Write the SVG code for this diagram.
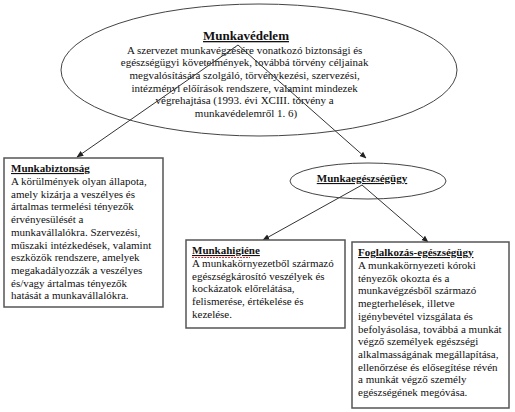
<svg xmlns="http://www.w3.org/2000/svg" width="515" height="412" viewBox="0 0 515 412">
<defs>
<marker id="arr" viewBox="0 0 10 10" refX="9" refY="5" markerWidth="7" markerHeight="7" orient="auto" markerUnits="userSpaceOnUse">
<path d="M0,1 L10,5 L0,9 z" fill="#222"/>
</marker>
<style>
text{font-family:"Liberation Serif","Times New Roman",serif;fill:#111;font-size:11px}
.t{font-weight:bold;text-decoration:underline}
.el{fill:#fff;stroke:#444;stroke-width:1}
.bx{fill:#fff;stroke:#555;stroke-width:1.5}
.ln{stroke:#333;stroke-width:1;fill:none;marker-end:url(#arr)}
</style>
</defs>
<rect width="515" height="412" fill="#fff"/>
<g id="munkavedelem">
<ellipse class="el" cx="259" cy="70" rx="198" ry="66"/>
<text x="246" y="40" text-anchor="middle" class="t" style="font-size:13px">Munkavédelem</text>
<text text-anchor="middle">
<tspan x="246" y="53.5">A szervezet munkavégzésére vonatkozó biztonsági és</tspan>
<tspan x="246" y="66.2">egészségügyi követelmények, továbbá törvény céljainak</tspan>
<tspan x="246" y="78.9">megvalósítására szolgáló, törvénykezési, szervezési,</tspan>
<tspan x="246" y="91.6">intézményi előírások rendszere, valamint mindezek</tspan>
<tspan x="246" y="104.3">végrehajtása (1993. évi XCIII. törvény a</tspan>
<tspan x="246" y="117">munkavédelemről 1. 6)</tspan>
</text>
</g>
<g id="munkaegeszsegugy">
<ellipse class="el" cx="368" cy="181" rx="78" ry="18"/>
<text x="362" y="182" text-anchor="middle" class="t">Munkaegészségügy</text>
</g>
<g id="connectors">
<line class="ln" x1="238" y1="45" x2="77" y2="157"/>
<line class="ln" x1="238" y1="45" x2="366" y2="158"/>
<line class="ln" x1="362" y1="185" x2="263" y2="240"/>
<line class="ln" x1="362" y1="185" x2="428" y2="242"/>
</g>
<g id="munkabiztonsag">
<rect class="bx" x="4" y="158" width="159" height="149"/>
<text x="11" y="172" class="t">Munkabiztonság</text>
<text>
<tspan x="11" y="185">A körülmények olyan állapota,</tspan>
<tspan x="11" y="197.7">amely kizárja a veszélyes és</tspan>
<tspan x="11" y="210.4">ártalmas termelési tényezők</tspan>
<tspan x="11" y="223.1">érvényesülését a</tspan>
<tspan x="11" y="235.8">munkavállalókra. Szervezési,</tspan>
<tspan x="11" y="248.5">műszaki intézkedések, valamint</tspan>
<tspan x="11" y="261.2">eszközök rendszere, amelyek</tspan>
<tspan x="11" y="273.9">megakadályozzák a veszélyes</tspan>
<tspan x="11" y="286.6">és/vagy ártalmas tényezők</tspan>
<tspan x="11" y="299.3">hatását a munkavállalókra.</tspan>
</text>
</g>
<g id="munkahigiene">
<rect class="bx" x="186" y="240" width="159" height="88"/>
<text x="192" y="254" class="t">Munkahigiéne</text>
<line x1="192" y1="257.5" x2="250" y2="257.5" stroke="#d33" stroke-width="1" stroke-dasharray="2,1"/>
<text>
<tspan x="192" y="267">A munkakörnyezetből származó</tspan>
<tspan x="192" y="279.7">egészségkárosító veszélyek és</tspan>
<tspan x="192" y="292.4">kockázatok előrelátása,</tspan>
<tspan x="192" y="305.1">felismerése, értékelése és</tspan>
<tspan x="192" y="317.8">kezelése.</tspan>
</text>
</g>
<g id="foglalkozas-egeszsegugy">
<rect class="bx" x="352" y="242" width="157" height="166"/>
<text x="358" y="256" class="t">Foglalkozás-egészségügy</text>
<text>
<tspan x="358" y="269">A munkakörnyezeti kóroki</tspan>
<tspan x="358" y="281.7">tényezők okozta és a</tspan>
<tspan x="358" y="294.4">munkavégzésből származó</tspan>
<tspan x="358" y="307.1">megterhelések, illetve</tspan>
<tspan x="358" y="319.8">igénybevétel vizsgálata és</tspan>
<tspan x="358" y="332.5">befolyásolása, továbbá a munkát</tspan>
<tspan x="358" y="345.2">végző személyek egészségi</tspan>
<tspan x="358" y="357.9">alkalmasságának megállapítása,</tspan>
<tspan x="358" y="370.6">ellenőrzése és elősegítése révén</tspan>
<tspan x="358" y="383.3">a munkát végző személy</tspan>
<tspan x="358" y="396">egészségének megóvása.</tspan>
</text>
</g>
</svg>
